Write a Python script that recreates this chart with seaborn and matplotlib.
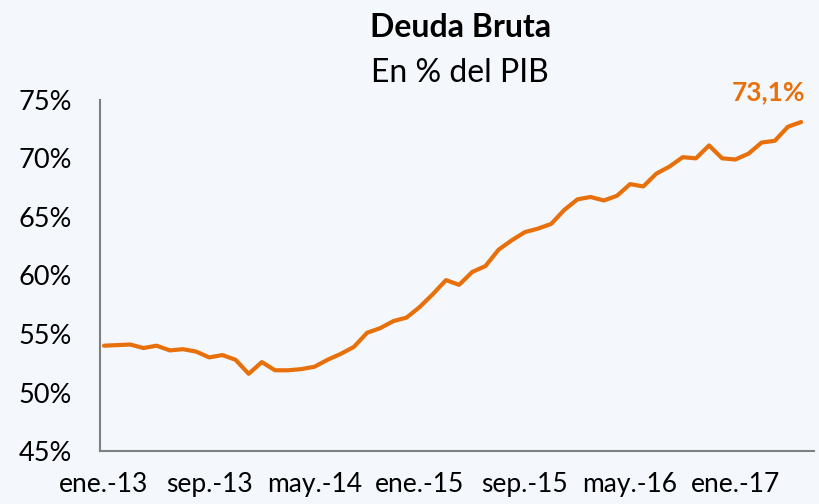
import pandas as pd
import matplotlib.pyplot as plt
import seaborn as sns

# Datos: deuda bruta mensual (% del PIB), ene-13 a jun-17
meses = pd.date_range("2013-01-01", periods=54, freq="MS")
deuda = [54.0, 54.05, 54.1, 53.8, 54.0, 53.6, 53.7, 53.5, 53.0, 53.2,
         52.8, 51.6, 52.6, 51.9, 51.9, 52.0, 52.2, 52.8, 53.3, 53.9,
         55.1, 55.5, 56.1, 56.4, 57.3, 58.4, 59.6, 59.2, 60.3, 60.8,
         62.2, 63.0, 63.7, 64.0, 64.4, 65.6, 66.5, 66.7, 66.4, 66.8,
         67.8, 67.6, 68.7, 69.3, 70.1, 70.0, 71.1, 70.0, 69.9, 70.4,
         71.35, 71.5, 72.7, 73.1]
etiquetas_x = ["ene.-13", "sep.-13", "may.-14", "ene.-15", "sep.-15", "may.-16", "ene.-17"]
pos_etiquetas = [0, 8, 16, 24, 32, 40, 48]
y_ticks = [45, 50, 55, 60, 65, 70, 75]

fondo = "#F4F7FC"
naranja = "#E8700A"

sns.set_style("white")
plt.rcParams["font.family"] = ["Lato", "DejaVu Sans"]
plt.rcParams["text.color"] = "black"

df = pd.DataFrame({"idx": range(len(deuda)), "deuda": deuda, "mes": meses})

fig = plt.figure(figsize=(8.2, 5.04), dpi=100, facecolor=fondo)
ax = fig.add_axes([0.122, 0.105, 0.871, 0.697])
ax.set_facecolor(fondo)

sns.lineplot(data=df, x="idx", y="deuda", color=naranja, linewidth=3.0, ax=ax)

ax.set_xlim(-0.3, 54)
ax.set_ylim(45, 75)
ax.set_xticks(pos_etiquetas)
ax.set_xticklabels(etiquetas_x, fontsize=19)
ax.set_yticks(y_ticks)
ax.set_yticklabels([f"{v}%" for v in y_ticks], fontsize=19.5)
ax.tick_params(axis="both", length=0, colors="black")
ax.tick_params(axis="x", pad=15)
ax.tick_params(axis="y", pad=20)
ax.set_xlabel("")
ax.set_ylabel("")

for s in ["top", "right"]:
    ax.spines[s].set_visible(False)
for s in ["left", "bottom"]:
    ax.spines[s].set_color("#808080")
    ax.spines[s].set_linewidth(1.5)

# Último valor
ax.annotate(f"{deuda[-1]:.1f}%".replace(".", ","), xy=(len(deuda) - 1, deuda[-1]),
            xytext=(3, 13), textcoords="offset points", ha="right", va="bottom",
            color=naranja, fontsize=19, fontweight="bold", annotation_clip=False)

fig.text(0.562, 0.945, "Deuda Bruta", ha="center", va="center", fontsize=23,
         fontweight="bold", color="black")
fig.text(0.561, 0.855, "En % del PIB", ha="center", va="center", fontsize=23, color="black")

fig.savefig("out.png", dpi=100, facecolor=fondo)
